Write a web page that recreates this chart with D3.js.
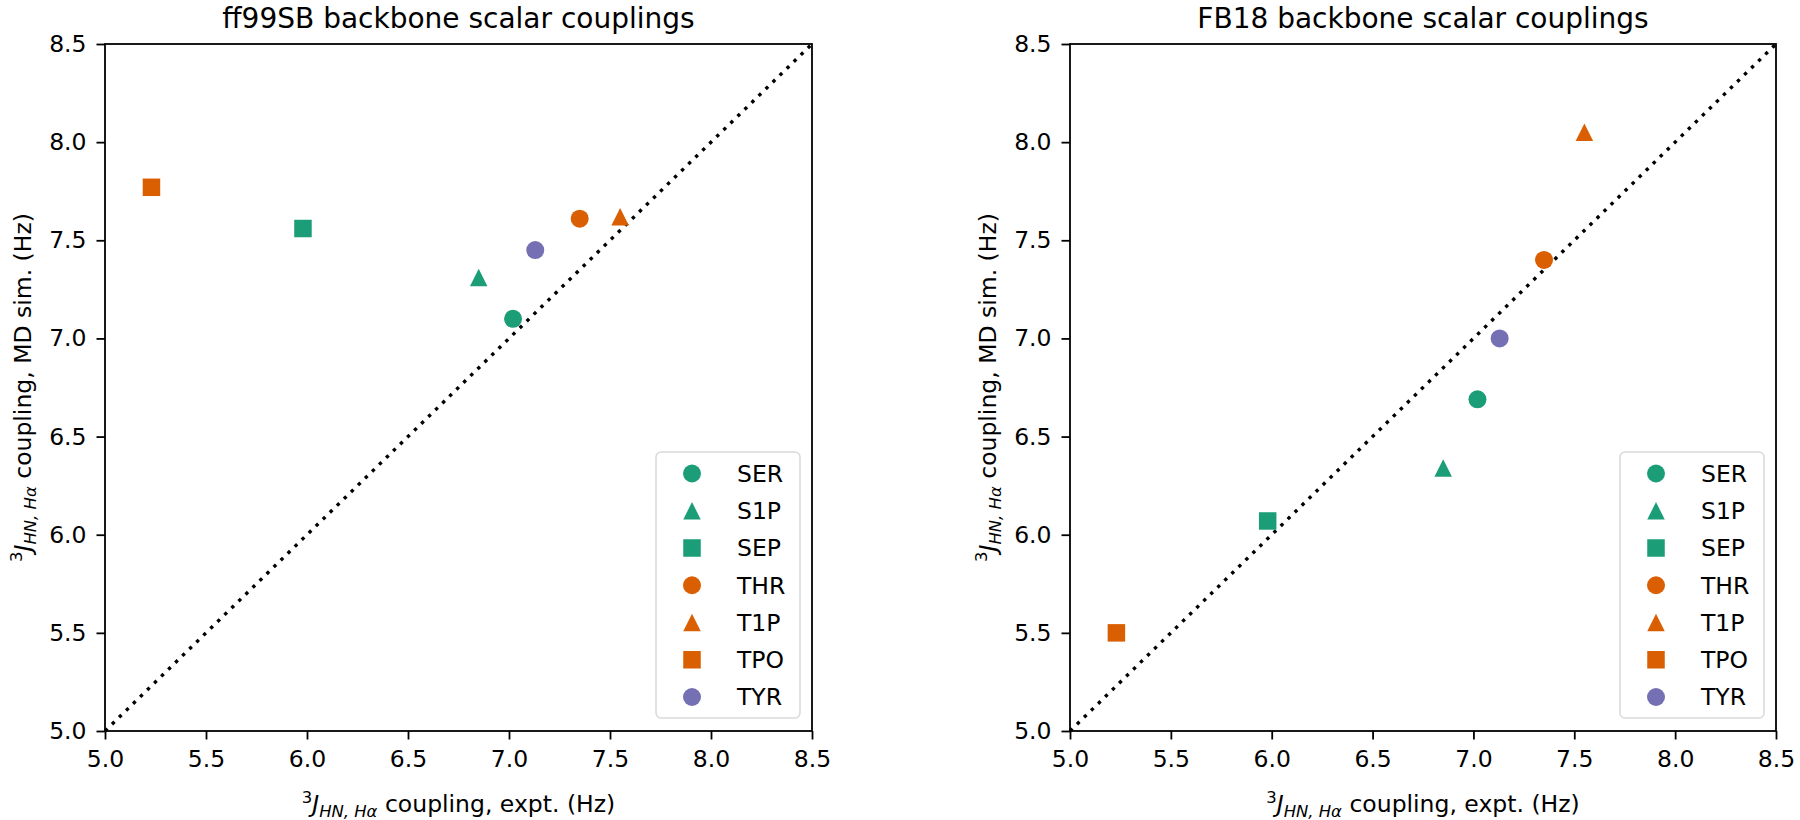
<!DOCTYPE html>
<html>
<head>
<meta charset="utf-8">
<script src="https://cdn.jsdelivr.net/npm/d3@7"></script>
<style>
  html, body { margin: 0; padding: 0; background: #ffffff; }
  svg { display: block; font-family: "DejaVu Sans", sans-serif; }
</style>
</head>
<body>
<svg id="chart" width="1800" height="820"></svg>
<script>
// ---- data ----
const residues = ["SER", "S1P", "SEP", "THR", "T1P", "TPO", "TYR"];
const exptJ = [7.02, 6.85, 5.98, 7.35, 7.55, 5.23, 7.13];
const ff99sbJ = [7.10, 7.31, 7.56, 7.61, 7.62, 7.77, 7.45];
const fb18J = [6.69, 6.34, 6.07, 7.40, 8.05, 5.50, 7.00];
const residueColors = ["#1b9e77", "#1b9e77", "#1b9e77", "#d95f02", "#d95f02", "#d95f02", "#7570b3"];
const residueShapes = ["circle", "triangle", "square", "circle", "triangle", "square", "circle"];
const tickValues = [5.0, 5.5, 6.0, 6.5, 7.0, 7.5, 8.0, 8.5];
const axisDomain = [5.0, 8.5];
const panelTitles = ["ff99SB backbone scalar couplings", "FB18 backbone scalar couplings"];
const panelSims = [ff99sbJ, fb18J];

// ---- layout ----
const svg = d3.select("#chart");
const panels = [
  { left: 105, right: 812 },
  { left: 1070, right: 1776 }
];
const plotTop = 44, plotBottom = 731;
const tickFont = 23.5, titleFont = 28, labelFont = 23.5, legendFont = 23.5;

function symbolPath(shape) {
  if (shape === "circle") return d3.symbol(d3.symbolCircle, Math.PI * 9 * 9)();
  if (shape === "square") return d3.symbol(d3.symbolSquare, 17.5 * 17.5)();
  const h = 17.5;
  return `M0,${-h/2}L${h/2},${h/2}L${-h/2},${h/2}Z`;
}

function addJLabel(textSel, rest) {
  textSel.append("tspan").attr("font-size", labelFont * 0.7).attr("dy", -labelFont * 0.38).text("3");
  textSel.append("tspan").attr("font-style", "italic").attr("dy", labelFont * 0.38).text("J");
  textSel.append("tspan").attr("font-style", "italic").attr("font-size", labelFont * 0.7)
    .attr("dy", labelFont * 0.22).text("HN, Hα");
  textSel.append("tspan").attr("dy", -labelFont * 0.22).text(rest);
}

panels.forEach((p, i) => {
  const x = d3.scaleLinear().domain(axisDomain).range([p.left, p.right]);
  const y = d3.scaleLinear().domain(axisDomain).range([plotBottom, plotTop]);
  const g = svg.append("g");

  g.append("line")
    .attr("x1", x(axisDomain[0])).attr("y1", y(axisDomain[0]))
    .attr("x2", x(axisDomain[1])).attr("y2", y(axisDomain[1]))
    .attr("stroke", "#000").attr("stroke-width", 3.4)
    .attr("stroke-dasharray", "3.4 6.4");

  const sims = panelSims[i];
  g.selectAll("path.pt").data(residues).enter().append("path")
    .attr("class", "pt")
    .attr("d", (d, k) => symbolPath(residueShapes[k]))
    .attr("transform", (d, k) => `translate(${x(exptJ[k])},${y(sims[k])})`)
    .attr("fill", (d, k) => residueColors[k]);

  const xAxis = d3.axisBottom(x).tickValues(tickValues).tickFormat(d3.format(".1f"))
    .tickSize(8.5).tickPadding(11);
  const yAxis = d3.axisLeft(y).tickValues(tickValues).tickFormat(d3.format(".1f"))
    .tickSize(8.5).tickPadding(10);
  const gx = g.append("g").attr("transform", `translate(0,${plotBottom})`).call(xAxis);
  const gy = g.append("g").attr("transform", `translate(${p.left},0)`).call(yAxis);
  [gx, gy].forEach(ax => {
    ax.select(".domain").remove();
    ax.selectAll(".tick line").attr("stroke", "#000").attr("stroke-width", 1.8);
    ax.selectAll(".tick text").attr("fill", "#000").attr("font-size", tickFont)
      .attr("font-family", "DejaVu Sans");
  });

  g.append("rect").attr("x", p.left).attr("y", plotTop)
    .attr("width", p.right - p.left).attr("height", plotBottom - plotTop)
    .attr("fill", "none").attr("stroke", "#000").attr("stroke-width", 1.8);

  const lgRight = p.right - 12, lgBottom = plotBottom - 13;
  const lgW = 144, lgH = 266;
  const lg = g.append("g").attr("transform", `translate(${lgRight - lgW},${lgBottom - lgH})`);
  lg.append("rect").attr("width", lgW).attr("height", lgH).attr("rx", 5).attr("ry", 5)
    .attr("fill", "#fff").attr("fill-opacity", 0.8).attr("stroke", "#d9d9d9").attr("stroke-width", 1.5);
  const rowY = d3.scalePoint().domain(residues).range([21.5, 245]);
  residues.forEach((r, k) => {
    lg.append("path").attr("d", symbolPath(residueShapes[k]))
      .attr("transform", `translate(36,${rowY(r)})`).attr("fill", residueColors[k]);
    lg.append("text").attr("x", 81).attr("y", rowY(r)).attr("dy", "0.36em")
      .attr("font-size", legendFont).attr("fill", "#000").text(r);
  });

  g.append("text").attr("x", (p.left + p.right) / 2).attr("y", 28)
    .attr("text-anchor", "middle").attr("font-size", titleFont).attr("fill", "#000")
    .text(panelTitles[i]);

  const xl = g.append("text").attr("x", (p.left + p.right) / 2).attr("y", 812)
    .attr("text-anchor", "middle").attr("font-size", labelFont).attr("fill", "#000");
  addJLabel(xl, " coupling, expt. (Hz)");

  const ycx = p.left - 74, ycy = (plotTop + plotBottom) / 2;
  const yl = g.append("text").attr("transform", `translate(${ycx},${ycy}) rotate(-90)`)
    .attr("text-anchor", "middle").attr("font-size", labelFont).attr("fill", "#000");
  addJLabel(yl, " coupling, MD sim. (Hz)");
});
</script>
</body>
</html>
